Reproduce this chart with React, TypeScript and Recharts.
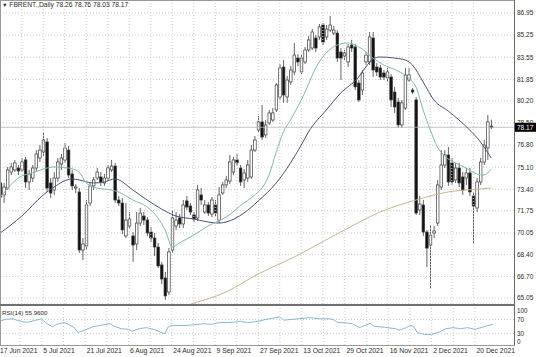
import { ComposedChart, Bar, Line, XAxis, YAxis, CartesianGrid, ReferenceLine } from 'recharts';

const FONT = '"Liberation Sans", Arial, sans-serif';

// daily bars, 17 Jun - 27 Dec 2021
const dates = [
  '17 Jun', '18 Jun', '21 Jun', '22 Jun', '23 Jun', '24 Jun', '25 Jun', '28 Jun', '29 Jun', '30 Jun',
  '1 Jul', '2 Jul', '5 Jul', '6 Jul', '7 Jul', '8 Jul', '9 Jul', '12 Jul', '13 Jul', '14 Jul', '15 Jul',
  '16 Jul', '19 Jul', '20 Jul', '21 Jul', '22 Jul', '23 Jul', '26 Jul', '27 Jul', '28 Jul', '29 Jul', '30 Jul',
  '2 Aug', '3 Aug', '4 Aug', '5 Aug', '6 Aug', '9 Aug', '10 Aug', '11 Aug', '12 Aug', '13 Aug', '16 Aug',
  '17 Aug', '18 Aug', '19 Aug', '20 Aug', '23 Aug', '24 Aug', '25 Aug', '26 Aug', '27 Aug', '30 Aug', '31 Aug',
  '1 Sep', '2 Sep', '3 Sep', '6 Sep', '7 Sep', '8 Sep', '9 Sep', '10 Sep', '13 Sep', '14 Sep', '15 Sep',
  '16 Sep', '17 Sep', '20 Sep', '21 Sep', '22 Sep', '23 Sep', '24 Sep', '27 Sep', '28 Sep', '29 Sep', '30 Sep',
  '1 Oct', '4 Oct', '5 Oct', '6 Oct', '7 Oct', '8 Oct', '11 Oct', '12 Oct', '13 Oct', '14 Oct', '15 Oct',
  '18 Oct', '19 Oct', '20 Oct', '21 Oct', '22 Oct', '25 Oct', '26 Oct', '27 Oct', '28 Oct', '29 Oct',
  '1 Nov', '2 Nov', '3 Nov', '4 Nov', '5 Nov', '8 Nov', '9 Nov', '10 Nov', '11 Nov', '12 Nov', '15 Nov',
  '16 Nov', '17 Nov', '18 Nov', '19 Nov', '22 Nov', '23 Nov', '24 Nov', '25 Nov', '26 Nov', '29 Nov', '30 Nov',
  '1 Dec', '2 Dec', '3 Dec', '6 Dec', '7 Dec', '8 Dec', '9 Dec', '10 Dec', '13 Dec', '14 Dec', '15 Dec',
  '16 Dec', '17 Dec', '20 Dec', '21 Dec', '22 Dec', '23 Dec', '24 Dec', '27 Dec',
];

const open = [
  73.89, 72.97, 73.50, 74.73, 74.89, 75.04, 74.89, 75.66, 73.97, 74.27,
  75.04, 75.81, 76.27, 77.04, 73.89, 73.35, 74.27, 75.35, 75.66, 76.42, 74.58,
  73.50, 73.20, 68.74, 69.05, 72.35, 73.66, 74.27, 74.35, 73.89, 74.27, 74.89,
  75.19, 72.58, 72.35, 69.82, 70.58, 69.82, 69.20, 70.81, 71.35, 71.04, 70.12,
  69.66, 68.97, 67.59, 66.59, 65.51, 68.74, 70.58, 71.20, 70.74, 72.51, 72.12,
  71.43, 71.20, 72.97, 71.66, 72.20, 71.51, 72.20, 71.04, 73.12, 73.74, 74.04,
  74.73, 75.66, 75.04, 74.12, 74.27, 74.35, 76.42, 77.96, 78.58, 77.58, 78.50,
  78.73, 79.50, 80.50, 82.80, 80.50, 81.65, 82.42, 83.49, 82.42, 83.19, 84.11,
  84.26, 85.03, 85.11, 86.03, 85.11, 85.64, 85.41, 85.41, 83.95, 83.65,
  83.19, 84.49, 84.34, 81.57, 81.03, 83.19, 83.19, 85.03, 82.80, 82.73, 82.34,
  81.96, 82.03, 80.88, 80.11, 78.35, 79.65, 81.80, 81.03, 80.27, 71.81, 72.20,
  70.12, 69.12, 70.05, 70.81, 73.58, 75.27, 76.04, 75.43, 74.12, 75.04, 74.35,
  74.27, 74.66, 72.89, 71.97, 73.97, 75.50, 76.58, 78.26,
];

const high = [
  74.12, 73.89, 75.12, 75.43, 75.66, 75.27, 75.81, 75.89, 74.89, 75.27,
  76.42, 76.81, 77.81, 77.35, 74.27, 74.73, 75.81, 76.12, 76.96, 76.73, 74.89,
  73.81, 73.50, 69.66, 72.58, 73.89, 74.35, 75.04, 74.73, 74.58, 75.27, 75.66,
  75.43, 72.89, 72.74, 72.35, 71.66, 70.12, 71.66, 71.97, 71.66, 71.27, 70.51,
  70.05, 69.28, 67.82, 67.05, 68.89, 71.81, 71.66, 71.51, 72.58, 72.89, 72.35,
  71.66, 73.74, 73.50, 72.58, 72.43, 72.81, 72.58, 73.58, 73.97, 74.43, 76.04,
  75.89, 76.12, 75.27, 74.96, 75.66, 76.81, 77.50, 79.04, 79.88, 78.73, 79.50,
  79.65, 81.57, 83.03, 83.34, 82.11, 82.88, 84.65, 83.80, 83.72, 84.34, 85.18,
  85.72, 85.26, 86.11, 86.18, 86.03, 86.72, 85.95, 85.64, 84.26, 84.11,
  84.57, 84.88, 84.57, 81.80, 82.57, 83.95, 85.49, 85.49, 83.11, 82.96, 82.57,
  82.73, 82.26, 81.27, 80.42, 80.27, 82.73, 82.73, 81.19, 80.50, 72.89, 72.58,
  70.28, 70.66, 70.58, 74.12, 76.42, 76.42, 76.65, 75.81, 75.43, 75.43, 74.73,
  75.04, 75.04, 73.20, 74.27, 75.81, 77.19, 79.11, 78.76,
];

const low = [
  72.04, 72.35, 73.35, 74.50, 74.73, 74.50, 74.73, 73.50, 73.35, 73.97,
  74.73, 75.50, 75.96, 73.20, 72.74, 72.97, 73.97, 74.89, 75.43, 74.27, 73.35,
  73.12, 68.51, 67.97, 68.74, 72.12, 73.35, 74.12, 73.66, 73.66, 74.12, 74.73,
  72.35, 72.12, 69.97, 69.66, 70.35, 67.82, 68.74, 70.58, 70.66, 69.82, 69.35,
  68.28, 67.36, 66.13, 64.90, 65.28, 68.51, 70.28, 70.43, 70.43, 71.81, 71.43,
  70.89, 70.97, 72.20, 71.51, 71.35, 71.27, 71.35, 70.81, 72.97, 73.50, 73.81,
  74.50, 75.19, 73.66, 73.50, 73.97, 74.20, 76.27, 77.81, 77.19, 77.35, 78.35,
  78.58, 79.34, 80.27, 80.04, 80.04, 81.42, 82.19, 82.88, 82.26, 83.03, 83.95,
  84.11, 83.95, 84.88, 84.49, 84.88, 85.49, 85.26, 83.19, 81.80, 83.34,
  82.80, 83.95, 81.03, 80.11, 80.65, 82.96, 82.96, 82.03, 82.11, 81.80, 81.80,
  81.65, 79.73, 79.27, 78.11, 78.11, 79.50, 81.65, 80.73, 71.43, 71.43, 69.82,
  67.43, 65.82, 69.66, 70.58, 73.35, 75.04, 73.66, 73.74, 73.89, 73.58, 72.97,
  73.74, 72.89, 69.28, 71.66, 73.74, 75.27, 75.66, 78.03,
];

const close = [
  72.81, 73.58, 74.89, 75.12, 75.43, 74.81, 75.50, 73.97, 74.58, 75.04,
  76.12, 76.42, 77.19, 73.50, 73.12, 74.27, 75.50, 75.81, 76.58, 74.50, 73.66,
  73.58, 68.74, 69.20, 72.20, 73.66, 74.12, 74.73, 73.97, 74.27, 75.04, 75.19,
  72.58, 72.35, 70.28, 71.04, 71.12, 69.12, 70.81, 71.58, 71.04, 70.05, 69.66,
  68.97, 67.51, 66.51, 65.21, 68.59, 71.20, 71.04, 70.74, 72.20, 72.04, 71.66,
  71.12, 73.35, 72.58, 72.20, 71.58, 72.58, 71.58, 72.97, 73.74, 74.12, 75.50,
  75.66, 75.43, 73.97, 74.66, 75.27, 76.42, 77.19, 78.58, 77.42, 78.35, 79.27,
  79.27, 81.42, 82.73, 80.65, 81.80, 82.57, 83.72, 83.19, 83.49, 84.11, 84.88,
  85.49, 84.26, 85.88, 84.72, 85.72, 86.03, 85.64, 83.49, 83.49, 83.88,
  84.34, 84.26, 81.27, 80.27, 82.34, 83.72, 85.11, 82.57, 82.42, 82.03, 82.03,
  82.42, 80.27, 79.73, 78.35, 80.04, 82.19, 82.19, 80.88, 71.58, 72.27, 70.12,
  68.89, 69.89, 70.20, 73.74, 75.27, 76.04, 73.97, 73.97, 75.04, 73.89, 73.35,
  74.66, 73.20, 72.12, 73.97, 75.50, 76.81, 78.58, 78.17,
];

// moving averages: [bar, value]
const fastMA: [number, number][] = [
  [0, 72.81], [6, 74.43], [9, 74.66], [12, 74.96], [15, 75.12], [19, 75.04], [22, 74.73], [24, 73.89],
  [27, 73.5], [31, 73.35], [33, 73.2], [37, 72.58], [41, 72.04], [44, 71.2], [46, 70.28], [48, 68.97],
  [50, 69.28], [54, 69.89], [58, 70.58], [63, 71.27], [68, 72.35], [70, 72.74], [75, 74.5], [77, 76.27],
  [79, 77.81], [81, 78.73], [84, 80.27], [89, 83.19], [94, 84.49], [97, 84.65], [101, 84.18], [104, 83.49],
  [107, 82.96], [111, 82.49], [114, 81.96], [116, 81.27], [118, 79.5], [120, 77.96], [122, 76.65],
  [124, 75.96], [127, 75.43], [130, 75.04], [133, 74.58], [135, 74.5], [137, 74.96],
];

const slowMA: [number, number][] = [
  [0, 70.05], [6, 71.35], [12, 72.97], [15, 73.58], [20, 74.2], [22, 74.12], [26, 73.89], [29, 73.97],
  [32, 74.2], [37, 73.35], [41, 72.58], [45, 71.89], [49, 71.35], [54, 71.12], [58, 70.89], [61, 70.81],
  [63, 70.89], [68, 71.58], [72, 72.51], [77, 73.89], [81, 75.43], [84, 76.81], [86, 77.81], [91, 79.5],
  [95, 80.8], [100, 82.03], [102, 82.8], [104, 83.42], [106, 83.57], [110, 83.49], [113, 83.34],
  [115, 82.96], [118, 81.65], [121, 80.27], [125, 79.42], [128, 78.73], [131, 77.96], [134, 77.04],
  [137, 75.81],
];

const longMA: [number, number][] = [
  [48, 64.13], [52, 64.48], [63, 65.51], [72, 66.9], [82, 68.2], [95, 70.12], [106, 71.66], [116, 72.58],
  [125, 73.2], [134, 73.43], [137, 73.5],
];

const rsi14: [number, number][] = [
  [0, 65], [2, 70], [4, 72], [5, 68], [7, 63], [8, 62], [10, 67], [12, 72], [13, 61], [15, 49], [16, 56],
  [18, 61], [19, 58], [21, 47], [22, 33], [24, 40], [26, 49], [28, 53], [31, 58], [32, 51], [34, 44],
  [36, 42], [37, 37], [39, 44], [41, 47], [43, 42], [45, 34], [46, 30], [47, 49], [48, 53], [52, 53],
  [55, 56], [57, 58], [59, 56], [61, 61], [65, 62], [67, 65], [69, 61], [72, 65], [74, 70], [78, 77],
  [79, 68], [83, 72], [86, 75], [89, 72], [92, 72], [93, 68], [94, 61], [96, 61], [98, 58], [100, 47],
  [101, 51], [103, 59], [104, 51], [107, 48], [110, 44], [111, 40], [113, 47], [114, 53], [115, 51],
  [116, 33], [118, 28], [120, 28], [122, 34], [124, 44], [126, 47], [128, 44], [130, 47], [132, 42],
  [134, 48], [136, 54], [137, 55.96],
];

const priceTicks = [65.05, 66.7, 68.4, 70.05, 71.75, 73.4, 75.1, 76.8, 78.5, 80.2, 81.85, 83.55, 85.25, 86.95];
const rsiTicks = [0, 30, 70, 100];
const rsiLevels = [30, 70];
const dateTicks = ['17 Jun', '5 Jul', '21 Jul', '6 Aug', '24 Aug', '9 Sep', '27 Sep', '13 Oct', '29 Oct', '16 Nov', '2 Dec', '20 Dec'];
const symbol = 'FBRENT.,Daily';
const lastBar = [78.26, 78.76, 78.03, 78.17];
const rsiLabel = 'RSI(14) 55.9600';

type Row = {
  date: string; open: number; high: number; low: number; close: number; range: [number, number];
  fast: number | null; slow: number | null; long: number | null; rsi: number | null;
};

const rows: Row[] = dates.map((date, i) => ({
  date, open: open[i], high: high[i], low: low[i], close: close[i], range: [low[i], high[i]],
  fast: null, slow: null, long: null, rsi: null,
}));
fastMA.forEach(([i, v]) => { rows[i].fast = v; });
slowMA.forEach(([i, v]) => { rows[i].slow = v; });
longMA.forEach(([i, v]) => { rows[i].long = v; });
rsi14.forEach(([i, v]) => { rows[i].rsi = v; });

const gridDates = dates.filter((_, i) => i % 6 === 0);
const GRID = '#cdcdcd';
const INK = '#2a2a2a';

function Candle(props: any) {
  const { x, y, width, height, payload } = props;
  if (!payload) return null;
  const { open: o, close: c, high: h, low: l } = payload;
  const k = h > l ? height / (h - l) : 0;
  const py = (v: number) => y + (h - v) * k;
  const cx = x + width / 2;
  const up = c >= o;
  const top = py(Math.max(o, c));
  const bh = Math.max(Math.abs(o - c) * k, 0.9);
  return (
    <g>
      <line x1={cx} x2={cx} y1={y} y2={y + height} stroke="#3c3c3c" strokeWidth={0.8} />
      <rect x={cx - 1.3} y={top} width={2.6} height={bh} fill={up ? '#ffffff' : '#111111'} stroke="#3c3c3c" strokeWidth={0.7} />
    </g>
  );
}

function BidLabel(props: any) {
  const vb = props.viewBox || {};
  const x = (vb.x ?? 0) + (vb.width ?? 0);
  const y = vb.y ?? 0;
  return (
    <g>
      <rect x={x} y={y - 4.5} width={22} height={9} fill="#000" />
      <text x={x + 3} y={y} dy="0.35em" fontSize={6.5} fill="#fff" fontFamily={FONT}>
        {lastBar[3].toFixed(2)}
      </text>
    </g>
  );
}

// RSI scale label, kept inside the panel like the terminal does
function RsiLevelLabel(props: any) {
  const vb = props.viewBox || {};
  const x = (vb.x ?? 0) + (vb.width ?? 0);
  const y = Math.min(Math.max(vb.y ?? 0, 5), 36);
  return (
    <text x={x + 3} y={y} dy="0.35em" fontSize={6.3} fill={INK} fontFamily={FONT}>
      {String(props.level)}
    </text>
  );
}

function DateTick(props: any) {
  const { x, y, payload } = props;
  return (
    <text x={x + 1.5} y={y} dy="0.71em" fontSize={6.8} fill={INK} fontFamily={FONT} textAnchor="start">
      {payload.value} 2021
    </text>
  );
}

export default function App() {
  const line = (top: number, left: number, w: number, h: number, color: string) => (
    <div style={{ position: 'absolute', top, left, width: w, height: h, background: color }} />
  );
  return (
    <div style={{ position: 'relative', width: 536, height: 357, background: '#fff', overflow: 'hidden', fontFamily: FONT }}>
      <style>{'body{margin:0}'}</style>

      <div style={{ position: 'absolute', left: 0, top: 0 }}>
        <ComposedChart width={536} height={304} data={rows} margin={{ top: 0, right: 0, bottom: 0, left: 0 }} barCategoryGap={0}>
          <CartesianGrid vertical={false} stroke={GRID} strokeDasharray="1 2" />
          {gridDates.map((d) => (
            <ReferenceLine key={d} x={d} stroke={GRID} strokeDasharray="1 2" />
          ))}
          <XAxis dataKey="date" hide padding={{ left: -1.5, right: 21 }} />
          <YAxis
            orientation="right"
            width={22}
            domain={[64.59, 87.95]}
            allowDataOverflow
            ticks={priceTicks}
            interval={0}
            axisLine={false}
            tickLine={false}
            tickSize={1}
            tickMargin={2}
            tick={{ fontSize: 6.5, fill: INK, fontFamily: FONT }}
            tickFormatter={(v: number) => v.toFixed(2)}
          />
          <ReferenceLine y={lastBar[3]} stroke="#b4b4b4" strokeWidth={0.8} label={<BidLabel />} />
          <Line dataKey="long" stroke="#cbb48d" strokeWidth={1} dot={false} connectNulls type="monotone" isAnimationActive={false} />
          <Line dataKey="slow" stroke="#4d4d7d" strokeWidth={1} dot={false} connectNulls type="monotone" isAnimationActive={false} />
          <Line dataKey="fast" stroke="#80b9ab" strokeWidth={1} dot={false} connectNulls type="monotone" isAnimationActive={false} />
          <Bar dataKey="range" shape={<Candle />} isAnimationActive={false} />
        </ComposedChart>
      </div>

      <div style={{ position: 'absolute', left: 0, top: 306 }}>
        <ComposedChart width={536} height={51} data={rows} margin={{ top: 0, right: 0, bottom: 0, left: 0 }}>
          {gridDates.map((d) => (
            <ReferenceLine key={d} x={d} stroke={GRID} strokeDasharray="1 2" />
          ))}
          {rsiLevels.map((v) => (
            <ReferenceLine key={v} y={v} stroke={GRID} strokeDasharray="1 2" />
          ))}
          {rsiTicks.map((v) => (
            <ReferenceLine key={`lv${v}`} y={v} stroke="none" label={<RsiLevelLabel level={v} />} />
          ))}
          <XAxis
            dataKey="date"
            height={12}
            padding={{ left: -1.5, right: 21 }}
            ticks={dateTicks}
            interval={0}
            axisLine={false}
            tickLine={false}
            tickSize={0}
            tickMargin={3}
            tick={<DateTick />}
          />
          <YAxis orientation="right" width={22} domain={[-2, 108]} allowDataOverflow tick={false} axisLine={false} tickLine={false} />
          <Line dataKey="rsi" stroke="#8ab8d6" strokeWidth={1} dot={false} connectNulls isAnimationActive={false} />
        </ComposedChart>
      </div>

      {line(0, 0, 514, 1, '#9a9a9a')}
      {line(0, 0, 1, 345, '#9a9a9a')}
      {line(0, 514, 1, 345, '#6a6a6a')}
      {line(304, 0, 515, 2, '#707070')}
      {line(345, 0, 515, 1, '#9a9a9a')}

      <div style={{ position: 'absolute', left: 2, top: 1, fontSize: 6.7, lineHeight: '8px', color: INK, whiteSpace: 'nowrap' }}>
        <span style={{ fontSize: 5.5 }}>▼</span> {symbol} {lastBar.map((v) => v.toFixed(2)).join(' ')}
      </div>
      <div style={{ position: 'absolute', left: 2, top: 309, fontSize: 6.2, lineHeight: '8px', color: INK, whiteSpace: 'nowrap' }}>
        {rsiLabel}
      </div>
    </div>
  );
}
